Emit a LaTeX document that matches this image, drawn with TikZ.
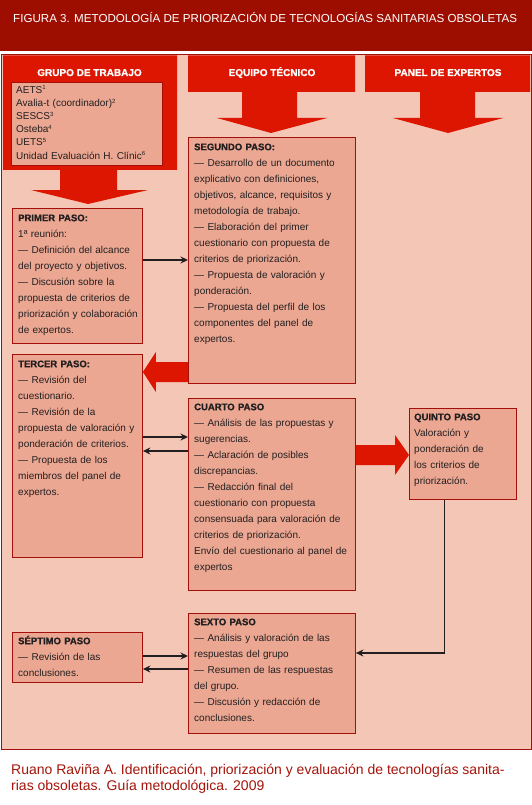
\documentclass[tikz,border=0pt]{standalone}
\usepackage{fontspec}
\setmainfont{Liberation Sans}
\newfontfamily\heavyfont[FakeBold=1]{Liberation Sans Bold}
\usetikzlibrary{arrows.meta,calc}
\definecolor{hdr}{HTML}{9E0E00}
\definecolor{colred}{HTML}{DC1600}
\definecolor{panel}{HTML}{F4C6B5}
\definecolor{boxfill}{HTML}{EBA792}
\definecolor{boxline}{HTML}{A3100C}
\definecolor{ink}{HTML}{231F20}
\definecolor{foot}{HTML}{A5140A}
\newcommand{\tstrut}{\vrule height 10pt depth 0pt width 0pt}
\newcommand{\hd}[1]{{\fontsize{9.5}{16}\heavyfont #1}}
\newcommand{\sups}[1]{\raisebox{3.2pt}{\fontsize{6}{6}\selectfont #1}}
\pgfdeclarelayer{bg}
\pgfdeclarelayer{mid}
\pgfsetlayers{bg,mid,main}
\begin{document}
\begin{tikzpicture}[x=1pt,y=-1pt,
  box/.style={draw=boxline, fill=boxfill, line width=0.9pt, inner sep=0pt, anchor=north west},
  txt/.style={anchor=north west, inner sep=0pt, align=left, text width=170pt, text=ink, font=\fontsize{10}{16}\selectfont},
  conn/.style={draw=ink, line width=1.4pt, -{Stealth[length=7.5pt,width=7pt]}},
  coltitle/.style={text=white, font=\fontsize{10}{12}\heavyfont, anchor=base, inner sep=0pt}]
\useasboundingbox (0,0) rectangle (532,805);
\begin{pgfonlayer}{bg}
\fill[white] (0,0) rectangle (532,805);
\fill[hdr] (0,0) rectangle (532,51);
\filldraw[fill=panel, draw=boxline, line width=0.8pt] (1,54.5) rectangle (531,749);
\end{pgfonlayer}
\node[anchor=base west, inner sep=0pt, text=white, font=\fontsize{11.6}{13}\selectfont] (title) at (13,23) {FIGURA 3. METODOLOGÍA DE PRIORIZACIÓN DE TECNOLOGÍAS SANITARIAS OBSOLETAS};
% column shapes
\begin{pgfonlayer}{mid}
\fill[colred] (3,55.5) -- (177,55.5) -- (177,170) -- (117,170) -- (117,190) -- (148,190) -- (88,204) -- (31,190) -- (60,190) -- (60,170) -- (3,170) -- cycle;
\fill[colred] (188,55.5) -- (355,55.5) -- (355,92) -- (297,92) -- (297,118) -- (327,118) -- (271,133) -- (217,118) -- (242,118) -- (242,92) -- (188,92) -- cycle;
\fill[colred] (365,55.5) -- (530,55.5) -- (530,92) -- (475,92) -- (475,118) -- (503,118) -- (448,133) -- (393,118) -- (420,118) -- (420,92) -- (365,92) -- cycle;
\end{pgfonlayer}
\node[coltitle] (c1) at (89.5,76) {GRUPO DE TRABAJO};
\node[coltitle] (c2) at (272,76) {EQUIPO TÉCNICO};
\node[coltitle] (c3) at (448,76) {PANEL DE EXPERTOS};
% boxes
\node[box, minimum width=151pt, minimum height=83pt] (g) at (11,82) {};
\node[box, minimum width=130pt, minimum height=135pt] (s1) at (12,208) {};
\node[box, minimum width=167pt, minimum height=246pt] (s2) at (188,137) {};
\node[box, minimum width=130pt, minimum height=203pt] (s3) at (12,354) {};
\node[box, minimum width=167pt, minimum height=192pt] (s4) at (188,398) {};
\node[box, minimum width=107pt, minimum height=91pt] (s5) at (409,408) {};
\node[box, minimum width=167pt, minimum height=120pt] (s6) at (188,613) {};
\node[box, minimum width=130pt, minimum height=50pt] (s7) at (12,632) {};
% texts
\node[txt, font=\fontsize{10}{13.2}\selectfont] (tg) at (16,83) {\tstrut AETS\sups{1}\\
Avalia-t (coordinador)\sups{2}\\
SESCS\sups{3}\\
Osteba\sups{4}\\
UETS\sups{5}\\
Unidad Evaluación H. Clínic\sups{6}};
\node[txt] (t1) at (18,211) {\tstrut\hd{PRIMER PASO:}\\
1ª reunión:\\
— Definición del alcance\\
del proyecto y objetivos.\\
— Discusión sobre la\\
propuesta de criterios de\\
priorización y colaboración\\
de expertos.};
\node[txt] (t2) at (194,140) {\tstrut\hd{SEGUNDO PASO:}\\
— Desarrollo de un documento\\
explicativo con definiciones,\\
objetivos, alcance, requisitos y\\
metodología de trabajo.\\
— Elaboración del primer\\
cuestionario con propuesta de\\
criterios de priorización.\\
— Propuesta de valoración y\\
ponderación.\\
— Propuesta del perfil de los\\
componentes del panel de\\
expertos.};
\node[txt] (t3) at (18,357) {\tstrut\hd{TERCER PASO:}\\
— Revisión del\\
cuestionario.\\
— Revisión de la\\
propuesta de valoración y\\
ponderación de criterios.\\
— Propuesta de los\\
miembros del panel de\\
expertos.};
\node[txt] (t4) at (194,400) {\tstrut\hd{CUARTO PASO}\\
— Análisis de las propuestas y\\
sugerencias.\\
— Aclaración de posibles\\
discrepancias.\\
— Redacción final del\\
cuestionario con propuesta\\
consensuada para valoración de\\
criterios de priorización.\\
Envío del cuestionario al panel de\\
expertos};
\node[txt] (t5) at (414,410) {\tstrut\hd{QUINTO PASO}\\
Valoración y\\
ponderación de\\
los criterios de\\
priorización.};
\node[txt] (t6) at (194,615) {\tstrut\hd{SEXTO PASO}\\
— Análisis y valoración de las\\
respuestas del grupo\\
— Resumen de las respuestas\\
del grupo.\\
— Discusión y redacción de\\
conclusiones.};
\node[txt] (t7) at (18,634) {\tstrut\hd{SÉPTIMO PASO}\\
— Revisión de las\\
conclusiones.};
% big red arrows
\coordinate (a1) at (s3.east |- 0,372);
\coordinate (a2) at (s2.west |- 0,372);
\coordinate (b1) at (s4.east |- 0,455);
\coordinate (b2) at (s5.west |- 0,455);
\begin{pgfonlayer}{mid}
\fill[colred] (a1) -- ($(a1)+(13,-20)$) -- ($(a1)+(13,-10)$) -- ($(a2)+(0,-10)$) -- ($(a2)+(0,10)$) -- ($(a1)+(13,10)$) -- ($(a1)+(13,20)$) -- cycle;
\fill[colred] (b2) -- ($(b2)+(-14,-20)$) -- ($(b2)+(-14,-10)$) -- ($(b1)+(0,-10)$) -- ($(b1)+(0,10)$) -- ($(b2)+(-14,10)$) -- ($(b2)+(-14,20)$) -- cycle;
\end{pgfonlayer}
% connectors
\draw[conn] (s1.east |- 0,260) -- (s2.west |- 0,260);
\draw[conn] (s3.east |- 0,437) -- (s4.west |- 0,437);
\draw[conn] (s4.west |- 0,451) -- (s3.east |- 0,451);
\draw[conn] (s7.east |- 0,656) -- (s6.west |- 0,656);
\draw[conn] (s6.west |- 0,669) -- (s7.east |- 0,669);
\draw[conn] ([xshift=-18.5pt]s5.south) |- (s6.east |- 0,653);
% footer
\node[anchor=base west, inner sep=0pt, align=left, text=foot, font=\fontsize{14}{16}\selectfont] (foot) at (11,790) {Ruano Raviña A. Identificación, priorización y evaluación de tecnologías sanita-\\rias obsoletas. Guía metodológica. 2009};
\end{tikzpicture}
\end{document}
